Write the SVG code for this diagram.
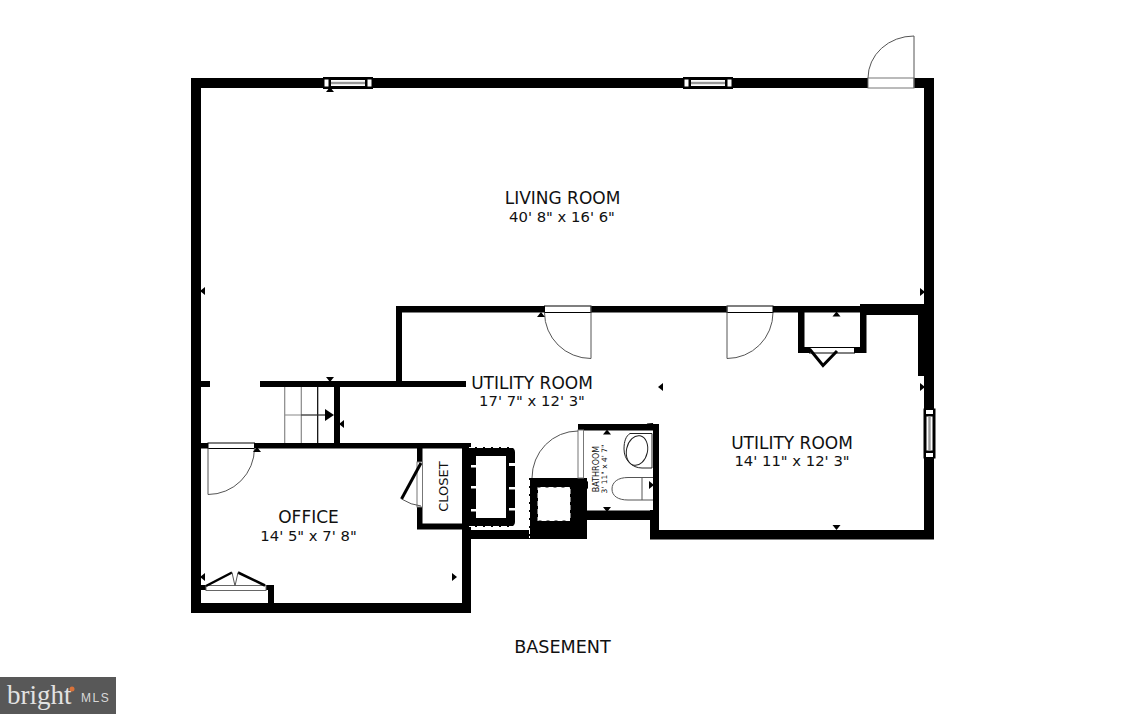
<svg xmlns="http://www.w3.org/2000/svg" width="1125" height="714" viewBox="0 0 1125 714">
<style>
.w{fill:#000}
.g{fill:#fff;stroke:#777;stroke-width:1}
.a{fill:none;stroke:#555;stroke-width:1}
.d{fill:none;stroke:#000;stroke-width:3}
.t{font-family:"DejaVu Sans",Verdana,sans-serif;fill:#111;text-anchor:middle}
.n{font-size:17px}
.s{font-size:14.800px}
.st{fill:none;stroke:#888;stroke-width:1.2}
</style>
<defs>
<polygon id="up" points="-4,2 4,2 0,-3" fill="#000"/>
<g id="win"><rect x="-25" y="-6" width="50" height="12" fill="#000"/><rect x="-23.500" y="-3.500" width="4" height="7" fill="#fff"/><rect x="19.500" y="-3.500" width="4" height="7" fill="#fff"/><rect x="-17" y="-3" width="34" height="6" fill="#fff"/><rect x="-17" y="-1.200" width="34" height="2.400" fill="#999"/></g>
</defs>
<rect width="1125" height="714" fill="#fff"/>
<g id="walls" class="w">
<rect x="191" y="78" width="677" height="10"/><rect x="914" y="78" width="20" height="10"/>
<rect x="191" y="78" width="10" height="535"/>
<rect x="924" y="78" width="10" height="461"/>
<rect x="191" y="603" width="280" height="10"/>
<rect x="462" y="443" width="9" height="170"/>
<rect x="201" y="443" width="266" height="5.500"/>
<rect x="201" y="381" width="9" height="6"/>
<rect x="260" y="381" width="206" height="6"/>
<rect x="396" y="306" width="6" height="78"/>
<rect x="334" y="384" width="6" height="60"/>
<rect x="396" y="306" width="466" height="6.500"/>
<rect x="860" y="304" width="64" height="11"/>
<rect x="918" y="304" width="6" height="72"/>
<rect x="798" y="310" width="6.500" height="43"/>
<rect x="860" y="310" width="6.500" height="43"/>
<rect x="798" y="347" width="68" height="6"/>
<rect x="417" y="445" width="5.500" height="84"/>
<rect x="417" y="523.500" width="50" height="6"/>
<rect x="201" y="585" width="73" height="5"/>
<rect x="268" y="585" width="6" height="20"/>
<rect x="470" y="530" width="117" height="9"/>
<rect x="529" y="478" width="58" height="61"/>
<rect x="578" y="424" width="81" height="6.500"/>
<rect x="653" y="424" width="6" height="115"/>
<rect x="583" y="510.500" width="76" height="9.500"/>
<rect x="650" y="510" width="9" height="29"/>
<rect x="650" y="530" width="284" height="9.500"/>
<rect x="578" y="478" width="9" height="42"/>
</g>
<g id="chimney-blocks">
<rect x="464" y="447" width="51" height="80" rx="5" fill="#000"/>
<rect x="476" y="456" width="30" height="62" fill="#fff"/>
<rect x="537.500" y="487" width="33" height="34" fill="#fff"/>
<g fill="#fff">
<rect x="509" y="463" width="6" height="3"/><rect x="509" y="487" width="6" height="2.500"/><rect x="509" y="508" width="6" height="2.500"/>
<rect x="471" y="465" width="5" height="2.500"/><rect x="471" y="486" width="5" height="2.500"/><rect x="471" y="509" width="5" height="2.500"/>
</g>
<path d="M469 447.500H515M469 526.500H515M529.500 480V538" fill="none" stroke="#fff" stroke-width="1" stroke-dasharray="6 2"/>
<path d="M537.500 487H570.500V521H537.500Z" fill="none" stroke="#000" stroke-width="1" stroke-dasharray="3 5"/>
</g>
<g id="stairs">
<path class="st" d="M284.700 387V443M301.300 387V443M284.700 415H326"/>
<path d="M317.700 387V443" stroke="#000" stroke-width="1.200" fill="none"/>
<path d="M301 415H326" stroke="#333" stroke-width="1" fill="none"/>
<polygon points="325,409 334,415 325,421" fill="#000"/>
</g>
<g id="doors">
<rect class="g" x="868" y="78" width="46" height="10"/>
<path class="a" d="M868 78A46 42 0 0 1 914 36V88"/>
<rect class="g" x="544.500" y="306" width="46.500" height="6.500" style="stroke:#000"/>
<path class="a" d="M544.500 312.500A46.500 46 0 0 0 591 358.500V306"/>
<rect class="g" x="727" y="306" width="46" height="6.500" style="stroke:#000"/>
<path class="a" d="M727 306V358.500A46 46 0 0 0 773 312.500"/>
<rect class="g" x="208" y="443" width="46.500" height="5.500" style="stroke:#000"/>
<path class="a" d="M208 448V494.500A46.500 46.500 0 0 0 254.500 448"/>
<rect class="g" x="417" y="462" width="5.500" height="45"/>
<path class="d" d="M421 463L401.500 499"/>
<path class="a" d="M401.500 499Q411 505 421 506"/>
<rect class="g" x="578" y="430" width="5.500" height="48"/>
<path class="a" d="M578 431A46 47 0 0 0 532 478"/>
<rect class="g" x="809.500" y="347.500" width="45" height="5.500" style="stroke:#000"/>
<path class="d" d="M809.500 349L823 365.500L837 351"/>
<rect x="206" y="585.500" width="60" height="5" fill="#fff" stroke="#666" stroke-width="1"/>
<path d="M206 586L232 572.500M238 572.500L265 585.500" stroke="#000" stroke-width="2.500" fill="none"/>
<path class="a" d="M232 572.500L235 586L238 572.500"/>
</g>
<g id="windows">
<use href="#win" x="348" y="83"/>
<use href="#win" x="708" y="83"/>
<use href="#win" transform="translate(929.500 433.500) rotate(90)"/>
</g>
<g id="fixtures" fill="none" stroke="#222" stroke-width="1">
<path d="M630 433.500H652V468H642C632 468 624 460 624 449C624 441 626 436 630 433.500Z" fill="#fff"/>
<ellipse cx="637" cy="450.500" rx="10.500" ry="15" transform="rotate(12 637 450.500)"/>
<path d="M642 477.500H653M642 500H653M642 477.500V500M642 477.500H628C618 477.500 612 482 612 489C612 496 618 500 628 500H642" stroke="#555"/>
</g>
<g id="markers">
<use href="#up" transform="translate(203 291) rotate(-90)"/>
<use href="#up" transform="translate(922 292) rotate(90)"/>
<use href="#up" transform="translate(330 379) rotate(180)"/>
<use href="#up" transform="translate(342 424) rotate(-90)"/>
<use href="#up" transform="translate(454 577) rotate(90)"/>
<use href="#up" transform="translate(203 577) rotate(-90)"/>
<use href="#up" transform="translate(257 450)"/>
<use href="#up" transform="translate(541 315)"/>
<use href="#up" transform="translate(661 387) rotate(-90)"/>
<use href="#up" transform="translate(836.500 314.500)"/>
<use href="#up" transform="translate(836.500 527) rotate(180)"/>
<use href="#up" transform="translate(922 387) rotate(90)"/>
<use href="#up" transform="translate(607 432.500)"/>
<use href="#up" transform="translate(607 509) rotate(180)"/>
<use href="#up" transform="translate(586 485) rotate(-90)"/>
<use href="#up" transform="translate(651 485) rotate(90)"/>
<use href="#up" transform="translate(330 90)"/>
<use href="#up" transform="translate(651 425) rotate(45)"/>
</g>
<g id="labels">
<text class="t n" x="562.500" y="204">LIVING ROOM</text>
<text class="t s" x="562" y="222">40' 8" x 16' 6"</text>
<text class="t n" x="532" y="388.500">UTILITY ROOM</text>
<text class="t s" x="532" y="405.500">17' 7" x 12' 3"</text>
<text class="t n" x="792" y="448.500">UTILITY ROOM</text>
<text class="t s" x="792" y="465.500">14' 11" x 12' 3"</text>
<text class="t n" x="308.500" y="523">OFFICE</text>
<text class="t s" x="308.500" y="541">14' 5" x 7' 8"</text>
<text class="t" font-size="13" transform="translate(448 486.500) rotate(-90)">CLOSET</text>
<text class="t" font-size="8" transform="translate(599 469) rotate(-90)">BATHROOM</text>
<text class="t" font-size="7.500" transform="translate(607 469) rotate(-90)">3' 11" x 4' 7"</text>
<text class="t" font-size="17.600" x="562.500" y="653">BASEMENT</text>
</g>
<g id="logo">
<rect x="0" y="677" width="116" height="37" fill="#585858"/>
<text x="7" y="704" font-family="'Liberation Serif',serif" font-size="27" fill="#e2e2e2">bright</text>
<circle cx="72" cy="689" r="2.500" fill="#d9723a"/>
<text x="81" y="702" font-family="'Liberation Sans',sans-serif" font-size="12" letter-spacing="1.500" fill="#d8d8d8">MLS</text>
</g>
</svg>
